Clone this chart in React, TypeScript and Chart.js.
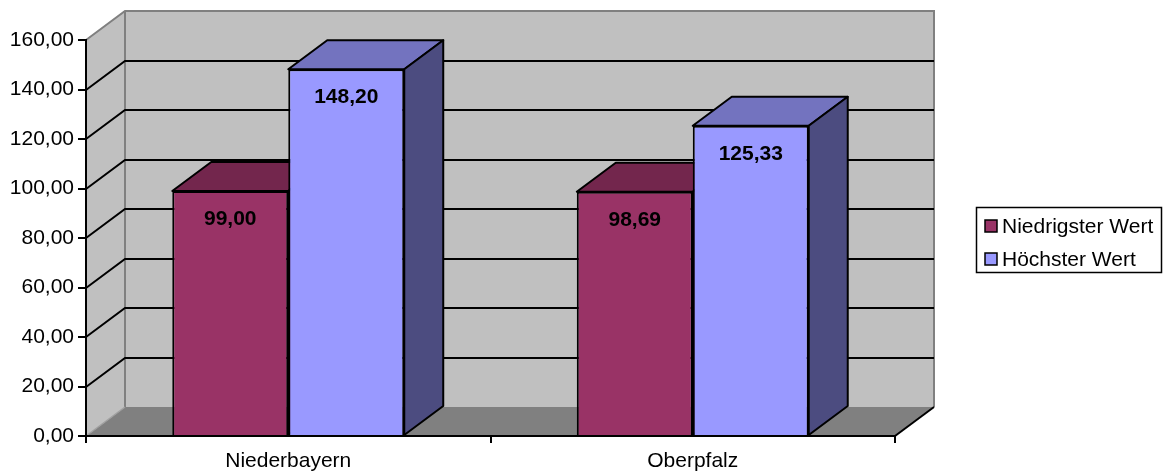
import React, { useEffect, useRef } from "react";
import { Chart, registerables } from "chart.js";

Chart.register(...registerables);

const categories = ["Niederbayern", "Oberpfalz"];
const seriesNames = ["Niedrigster Wert", "Höchster Wert"];
const niedrigster = [99.0, 98.69];
const hoechster = [148.2, 125.33];
const yTicks = [0, 20, 40, 60, 80, 100, 120, 140, 160];

const FRONT = ["#993366", "#9999FF"];
const TOP = ["#73264D", "#7373BF"];
const SIDE = ["#4D1A33", "#4C4C80"];
const FONT = '"Liberation Sans", Arial, sans-serif';
const DX = 39;
const DY = -29;

const fmt = (v: number) => v.toFixed(2).replace(".", ",");

const depthPlugin = {
  id: "depth3d",
  beforeDraw(chart: any) {
    const { ctx, chartArea } = chart;
    const { left, right, top, bottom } = chartArea;
    const y = chart.scales.y;
    ctx.save();
    // floor
    ctx.fillStyle = "#808080";
    ctx.beginPath();
    ctx.moveTo(left, bottom);
    ctx.lineTo(right, bottom);
    ctx.lineTo(right + DX, bottom + DY);
    ctx.lineTo(left + DX, bottom + DY);
    ctx.closePath();
    ctx.fill();
    // left wall
    ctx.fillStyle = "#C0C0C0";
    ctx.beginPath();
    ctx.moveTo(left, bottom);
    ctx.lineTo(left, top);
    ctx.lineTo(left + DX, top + DY);
    ctx.lineTo(left + DX, bottom + DY);
    ctx.closePath();
    ctx.fill();
    // back wall
    ctx.fillRect(left + DX, top + DY, right - left, bottom - top);
    // wall edges (gray)
    ctx.strokeStyle = "#808080";
    ctx.lineWidth = 2;
    ctx.beginPath();
    ctx.moveTo(left, top);
    ctx.lineTo(left + DX, top + DY);
    ctx.lineTo(right + DX, top + DY);
    ctx.lineTo(right + DX, bottom + DY);
    ctx.moveTo(left + DX, top + DY);
    ctx.lineTo(left + DX, bottom + DY);
    ctx.stroke();
    ctx.lineWidth = 1.5;
    ctx.strokeStyle = "#A0A0A0";
    ctx.beginPath();
    ctx.moveTo(left, bottom);
    ctx.lineTo(left + DX, bottom + DY);
    ctx.stroke();
    // gridlines
    ctx.strokeStyle = "#000000";
    ctx.lineWidth = 2;
    yTicks.forEach((t) => {
      if (t === 0 || t === 160) return;
      const py = Math.round(y.getPixelForValue(t));
      ctx.beginPath();
      ctx.moveTo(left, py);
      ctx.lineTo(left + DX, py + DY);
      ctx.lineTo(right + DX, py + DY);
      ctx.stroke();
    });
    // floor right edge
    ctx.beginPath();
    ctx.moveTo(right, bottom);
    ctx.lineTo(right + DX, bottom + DY);
    ctx.stroke();
    ctx.restore();
  },
  beforeDatasetsDraw(chart: any) {
    const { ctx } = chart;
    ctx.save();
    ctx.strokeStyle = "#000000";
    ctx.lineWidth = 2;
    ctx.lineJoin = "round";
    chart.data.datasets.forEach((ds: any, di: number) => {
      const meta = chart.getDatasetMeta(di);
      meta.data.forEach((bar: any) => {
        const l = bar.x - bar.width / 2;
        const r = bar.x + bar.width / 2;
        const t = bar.y;
        const b = bar.base;
        // top face
        ctx.fillStyle = TOP[di];
        ctx.beginPath();
        ctx.moveTo(l, t);
        ctx.lineTo(r, t);
        ctx.lineTo(r + DX, t + DY);
        ctx.lineTo(l + DX, t + DY);
        ctx.closePath();
        ctx.fill();
        ctx.stroke();
        // side face
        ctx.fillStyle = SIDE[di];
        ctx.beginPath();
        ctx.moveTo(r, t);
        ctx.lineTo(r + DX, t + DY);
        ctx.lineTo(r + DX, b + DY);
        ctx.lineTo(r, b);
        ctx.closePath();
        ctx.fill();
        ctx.stroke();
      });
    });
    ctx.restore();
  },
  afterDatasetsDraw(chart: any) {
    const { ctx } = chart;
    ctx.save();
    ctx.font = "bold 21px " + FONT;
    ctx.fillStyle = "#000000";
    ctx.textAlign = "center";
    ctx.textBaseline = "middle";
    chart.data.datasets.forEach((ds: any, di: number) => {
      const meta = chart.getDatasetMeta(di);
      meta.data.forEach((bar: any, i: number) => {
        ctx.fillText(fmt(ds.data[i]), bar.x, bar.y + 28);
      });
    });
    ctx.restore();
  },
  afterDraw(chart: any) {
    const { ctx } = chart;
    ctx.save();
    const lx = 976;
    const ly = 207;
    const lw = 186;
    const lh = 66;
    ctx.fillStyle = "#FFFFFF";
    ctx.fillRect(lx, ly, lw, lh);
    ctx.strokeStyle = "#000000";
    ctx.lineWidth = 1.5;
    ctx.strokeRect(lx + 0.5, ly + 0.5, lw - 1, lh - 1);
    ctx.font = "21px " + FONT;
    ctx.textBaseline = "middle";
    ctx.textAlign = "left";
    seriesNames.forEach((name, i) => {
      const cy = ly + 19 + i * 33;
      ctx.fillStyle = FRONT[i];
      ctx.fillRect(985, cy - 6, 12, 12);
      ctx.strokeRect(985, cy - 6, 12, 12);
      ctx.fillStyle = "#000000";
      ctx.fillText(name, 1002, cy + 1);
    });
    ctx.restore();
  },
};

export default function App() {
  const ref = useRef<HTMLCanvasElement | null>(null);
  useEffect(() => {
    if (!ref.current) return;
    const chart = new Chart(ref.current, {
      type: "bar",
      data: {
        labels: categories,
        datasets: [
          {
            label: seriesNames[0],
            data: niedrigster,
            backgroundColor: FRONT[0],
            borderColor: "#000000",
            borderWidth: 2,
            categoryPercentage: 0.5735,
            barPercentage: 1,
          },
          {
            label: seriesNames[1],
            data: hoechster,
            backgroundColor: FRONT[1],
            borderColor: "#000000",
            borderWidth: 2,
            categoryPercentage: 0.5735,
            barPercentage: 1,
          },
        ],
      },
      options: {
        responsive: false,
        animation: false,
        layout: { padding: { top: 40, right: 269, left: 0, bottom: 0 } },
        plugins: {
          legend: { display: false },
          tooltip: { enabled: false },
        },
        scales: {
          x: {
            grid: {
              offset: true,
              drawOnChartArea: false,
              drawTicks: true,
              tickLength: 7,
              color: "#000000",
              lineWidth: 2,
            },
            border: { display: true, color: "#000000", width: 2 },
            ticks: {
              color: "#000000",
              font: { family: FONT, size: 21 },
              padding: 6,
              maxRotation: 0,
            },
            afterFit: (s: any) => {
              s.height = 36;
            },
          },
          y: {
            min: 0,
            max: 160,
            ticks: {
              stepSize: 20,
              color: "#000000",
              font: { family: FONT, size: 21 },
              padding: 4,
              callback: (v: any) => fmt(Number(v)),
            },
            grid: {
              drawOnChartArea: false,
              drawTicks: true,
              tickLength: 8,
              color: "#000000",
              lineWidth: 2,
            },
            border: { display: true, color: "#000000", width: 2 },
            afterFit: (s: any) => {
              s.width = 86;
            },
          },
        },
      },
      plugins: [depthPlugin],
    });
    return () => chart.destroy();
  }, []);
  return (
    <div style={{ position: "absolute", left: 0, top: 0, width: 1164, height: 472, background: "#FFFFFF" }}>
      <canvas ref={ref} width={1164} height={472} />
    </div>
  );
}
